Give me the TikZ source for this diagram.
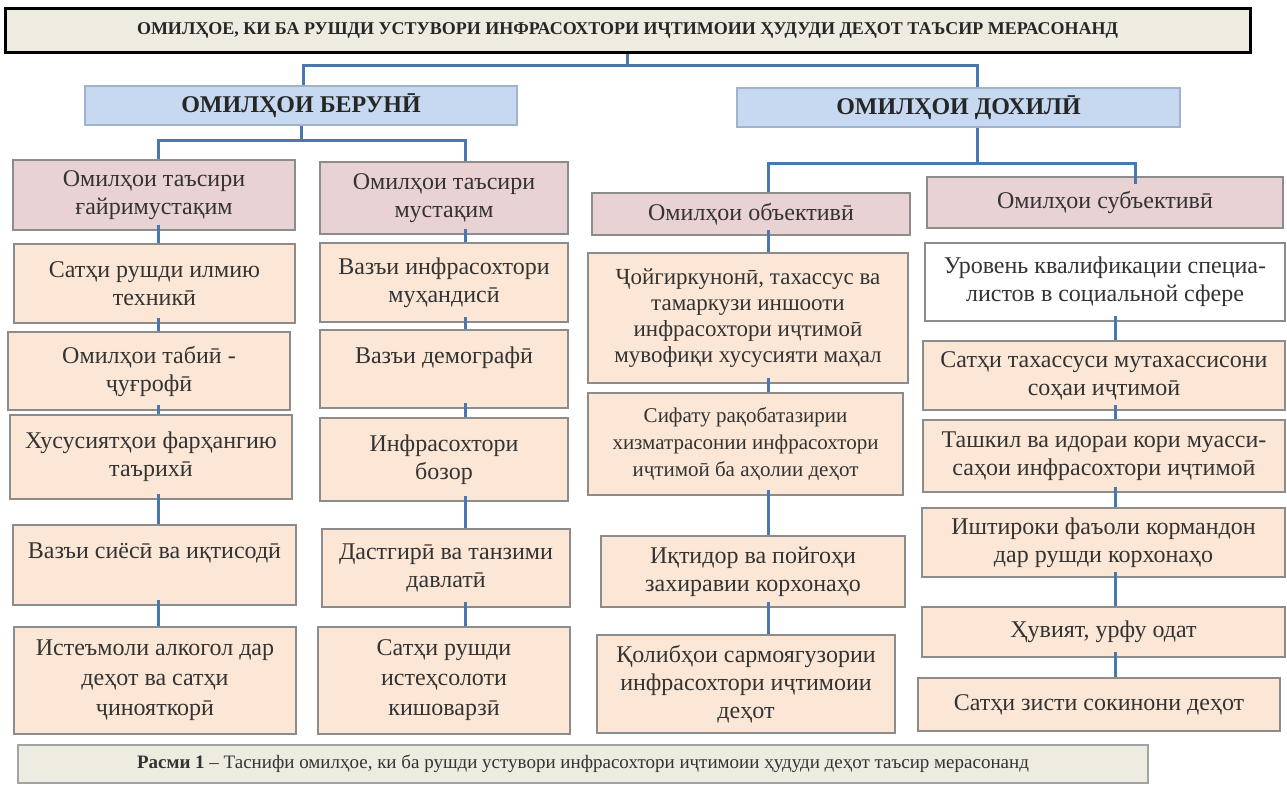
\documentclass[tikz,border=0pt]{standalone}
\usepackage{fontspec}
\setmainfont{Liberation Serif}
\usetikzlibrary{calc}

\definecolor{linkblue}{HTML}{4A78AE}
\definecolor{titlefill}{HTML}{EEECE1}
\definecolor{headfill}{HTML}{C6D9F1}
\definecolor{headline}{HTML}{9FB3CC}
\definecolor{pinkfill}{HTML}{E9D2D4}
\definecolor{peachfill}{HTML}{FCE7D6}
\definecolor{boxline}{HTML}{8C8C8C}
\definecolor{txt}{HTML}{333333}

\begin{document}
\begin{tikzpicture}[x=1pt, y=-1pt,
  box/.style={draw=boxline, line width=1.2pt, fill=peachfill, inner sep=0pt,
    align=center, text=txt, font=\fontsize{24}{28}\selectfont},
  group/.style={box, fill=pinkfill},
  head/.style={box, fill=headfill, draw=headline, text=black!85,
    font=\bfseries\fontsize{24}{28}\selectfont},
  link/.style={draw=linkblue, line width=3pt}]
\useasboundingbox (0,0) rectangle (1287,787);

% === Title ===
\node[box, fill=titlefill, draw=black, line width=3pt, minimum width=1245pt,
  minimum height=44pt, text=black!85, font=\bfseries\fontsize{18}{20}\selectfont]
  (Title) at (627.5,30) {ОМИЛҲОЕ, КИ БА РУШДИ УСТУВОРИ ИНФРАСОХТОРИ ИҶТИМОИИ ҲУДУДИ ДЕҲОТ ТАЪСИР МЕРАСОНАНД};

% === Headers ===
\node[head, minimum width=432pt, minimum height=39pt] (Beruni) at (301,105.5) {ОМИЛҲОИ БЕРУНӢ};
\node[head, minimum width=443pt, minimum height=39pt] (Dokhili) at (958.5,107.5) {ОМИЛҲОИ ДОХИЛӢ};

% === Column A ===
\node[group, minimum width=282pt, minimum height=70pt] (ColA-0) at (154,195) {Омилҳои таъсири\\ғайримустақим};
\node[box, minimum width=281pt, minimum height=79pt] (ColA-1) at (154.5,283.5) {Сатҳи рушди илмию\\техникӣ};
\node[box, minimum width=282pt, minimum height=78pt] (ColA-2) at (149,371) {Омилҳои табиӣ -\\ҷуғрофӣ};
\node[box, minimum width=282pt, minimum height=84pt] (ColA-3) at (151,457) {Хусусиятҳои фарҳангию\\таърихӣ};
\node[box, minimum width=283pt, minimum height=80pt] (ColA-4) at (154.5,565) {Вазъи сиёсӣ ва иқтисодӣ\\ \mbox{}};
\node[box, minimum width=282pt, minimum height=107pt, font=\fontsize{24}{30}\selectfont]
  (ColA-5) at (155,680.5) {Истеъмоли алкогол дар\\деҳот ва сатҳи\\ҷинояткорӣ};

% === Column B ===
\node[group, minimum width=248pt, minimum height=72pt] (ColB-0) at (444,198) {Омилҳои таъсири\\мустақим};
\node[box, minimum width=248pt, minimum height=79pt] (ColB-1) at (444,282.5) {Вазъи инфрасохтори\\муҳандисӣ};
\node[box, minimum width=248pt, minimum height=78pt] (ColB-2) at (444,369) {Вазъи демографӣ\\ \mbox{}};
\node[box, minimum width=248pt, minimum height=83pt] (ColB-3) at (444,459.5) {Инфрасохтори\\бозор};
\node[box, minimum width=248pt, minimum height=78pt] (ColB-4) at (446,568) {Дастгирӣ ва танзими\\давлатӣ};
\node[box, minimum width=252pt, minimum height=107pt, font=\fontsize{24}{30}\selectfont]
  (ColB-5) at (444,680.5) {Сатҳи рушди\\истеҳсолоти\\кишоварзӣ};

% === Column C ===
\node[group, minimum width=318pt, minimum height=42pt] (ColC-0) at (751,214) {Омилҳои объективӣ};
\node[box, minimum width=320pt, minimum height=130pt, font=\fontsize{23}{26}\selectfont]
  (ColC-1) at (748,318) {Ҷойгиркунонӣ, тахассус ва\\тамаркузи иншооти\\инфрасохтори иҷтимоӣ\\мувофиқи хусусияти маҳал};
\node[box, minimum width=315pt, minimum height=102pt, font=\fontsize{21}{27}\selectfont]
  (ColC-2) at (745.5,444) {Сифату рақобатазирии\\хизматрасонии инфрасохтори\\иҷтимоӣ ба аҳолии деҳот};
\node[box, minimum width=304pt, minimum height=71pt] (ColC-3) at (753,571.5) {Иқтидор ва пойгоҳи\\захиравии корхонаҳо};
\node[box, minimum width=298pt, minimum height=98pt] (ColC-4) at (746,684) {Қолибҳои сармоягузории\\инфрасохтори иҷтимоии\\деҳот};

% === Column D ===
\node[group, minimum width=356pt, minimum height=51pt] (ColD-0) at (1105,202.5) {Омилҳои субъективӣ};
\node[box, fill=white, minimum width=360pt, minimum height=78pt] (ColD-1) at (1105,282) {Уровень квалификации специа-\\листов в социальной сфере};
\node[box, minimum width=362pt, minimum height=69pt] (ColD-2) at (1104,375.5) {Сатҳи тахассуси мутахассисони\\соҳаи иҷтимоӣ};
\node[box, minimum width=362pt, minimum height=72pt] (ColD-3) at (1104,456) {Ташкил ва идораи кори муасси-\\саҳои инфрасохтори иҷтимоӣ};
\node[box, minimum width=363pt, minimum height=69pt] (ColD-4) at (1103.5,542.5) {Иштироки фаъоли кормандон\\дар рушди корхонаҳо};
\node[box, minimum width=363pt, minimum height=50pt] (ColD-5) at (1103.5,632) {Ҳувият, урфу одат};
\node[box, minimum width=362pt, minimum height=53pt] (ColD-6) at (1099,704.5) {Сатҳи зисти сокинони деҳот};

% === Caption ===
\node[box, fill=titlefill, draw=boxline!80, minimum width=1130pt, minimum height=38pt,
  font=\fontsize{19}{22}\selectfont] (Caption) at (583,764)
  {\textbf{Расми 1} – Таснифи омилҳое, ки ба рушди устувори инфрасохтори иҷтимоии ҳудуди деҳот таъсир мерасонанд};

% === Connections ===
% Title -> headers
\coordinate (BusL) at (303,65);
\coordinate (BusR) at (977,65);
\draw[link] (Title.south) -- (Title.south |- BusL);
\draw[link] (BusL |- Beruni.north) -- (BusL) -- (BusR) -- (BusR |- Dokhili.north);

% Beruni -> groups
\coordinate (ExtL) at (158,140);
\coordinate (ExtR) at (465,140);
\draw[link] (Beruni.south) -- (Beruni.south |- ExtL);
\draw[link] (ExtL |- ColA-0.north) -- (ExtL) -- (ExtR) -- (ExtR |- ColB-0.north);

% Dokhili -> groups
\coordinate (IntL) at (768,163);
\coordinate (IntR) at (1135,163);
\draw[link] (Dokhili.south -| BusR) -- (BusR |- IntL);
\draw[link] (IntL |- ColC-0.north) -- (IntL) -- (IntR) -- ($(IntR |- ColD-0.north)+(0,8)$);

% Column chains
\coordinate (XA) at (158,0);
\coordinate (XB) at (465,0);
\coordinate (XC) at (768,0);
\coordinate (XD) at (1115,0);
\foreach \i [count=\j] in {0,...,4}{
  \draw[link] ($(ColA-\i.south -| XA)+(0,-6)$) -- (ColA-\j.north -| XA);
  \draw[link] ($(ColB-\i.south -| XB)+(0,-6)$) -- (ColB-\j.north -| XB);
}
\foreach \i [count=\j] in {0,...,3}{
  \draw[link] ($(ColC-\i.south -| XC)+(0,-6)$) -- (ColC-\j.north -| XC);
}
\foreach \i [count=\j from 2] in {1,...,5}{
  \draw[link] ($(ColD-\i.south -| XD)+(0,-6)$) -- (ColD-\j.north -| XD);
}
\end{tikzpicture}
\end{document}
